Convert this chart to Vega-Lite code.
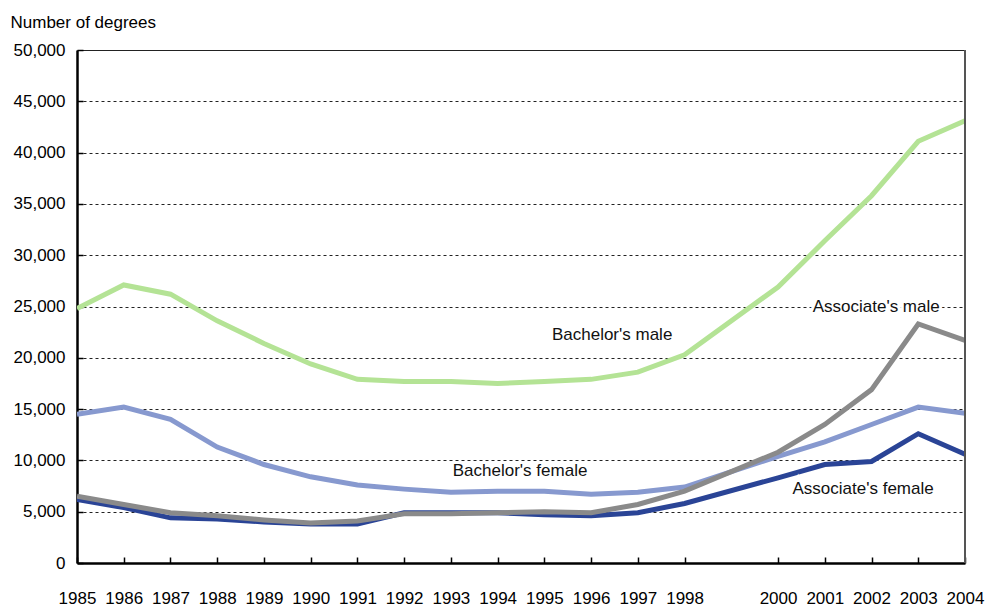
{
  "$schema": "https://vega.github.io/schema/vega-lite/v6.json",
  "autosize": "none",
  "width": 888,
  "height": 513,
  "padding": {"left": 77, "top": 50, "right": 22, "bottom": 44},
  "background": "white",
  "config": {
    "font": "Liberation Sans, Arial, sans-serif",
    "view": {"stroke": null}
  },
  "datasets": {
    "series": [
      {"year": 1985, "series": "Bachelor's male", "value": 24800},
      {"year": 1986, "series": "Bachelor's male", "value": 27100},
      {"year": 1987, "series": "Bachelor's male", "value": 26200},
      {"year": 1988, "series": "Bachelor's male", "value": 23600},
      {"year": 1989, "series": "Bachelor's male", "value": 21400},
      {"year": 1990, "series": "Bachelor's male", "value": 19400},
      {"year": 1991, "series": "Bachelor's male", "value": 17900},
      {"year": 1992, "series": "Bachelor's male", "value": 17700},
      {"year": 1993, "series": "Bachelor's male", "value": 17700},
      {"year": 1994, "series": "Bachelor's male", "value": 17500},
      {"year": 1995, "series": "Bachelor's male", "value": 17700},
      {"year": 1996, "series": "Bachelor's male", "value": 17900},
      {"year": 1997, "series": "Bachelor's male", "value": 18600},
      {"year": 1998, "series": "Bachelor's male", "value": 20300},
      {"year": 2000, "series": "Bachelor's male", "value": 26900},
      {"year": 2001, "series": "Bachelor's male", "value": 31400},
      {"year": 2002, "series": "Bachelor's male", "value": 35800},
      {"year": 2003, "series": "Bachelor's male", "value": 41100},
      {"year": 2004, "series": "Bachelor's male", "value": 43100},
      {"year": 1985, "series": "Bachelor's female", "value": 14500},
      {"year": 1986, "series": "Bachelor's female", "value": 15200},
      {"year": 1987, "series": "Bachelor's female", "value": 14000},
      {"year": 1988, "series": "Bachelor's female", "value": 11300},
      {"year": 1989, "series": "Bachelor's female", "value": 9600},
      {"year": 1990, "series": "Bachelor's female", "value": 8400},
      {"year": 1991, "series": "Bachelor's female", "value": 7600},
      {"year": 1992, "series": "Bachelor's female", "value": 7200},
      {"year": 1993, "series": "Bachelor's female", "value": 6900},
      {"year": 1994, "series": "Bachelor's female", "value": 7000},
      {"year": 1995, "series": "Bachelor's female", "value": 7000},
      {"year": 1996, "series": "Bachelor's female", "value": 6700},
      {"year": 1997, "series": "Bachelor's female", "value": 6900},
      {"year": 1998, "series": "Bachelor's female", "value": 7400},
      {"year": 2000, "series": "Bachelor's female", "value": 10400},
      {"year": 2001, "series": "Bachelor's female", "value": 11800},
      {"year": 2002, "series": "Bachelor's female", "value": 13500},
      {"year": 2003, "series": "Bachelor's female", "value": 15200},
      {"year": 2004, "series": "Bachelor's female", "value": 14600},
      {"year": 1985, "series": "Associate's female", "value": 6200},
      {"year": 1986, "series": "Associate's female", "value": 5400},
      {"year": 1987, "series": "Associate's female", "value": 4400},
      {"year": 1988, "series": "Associate's female", "value": 4300},
      {"year": 1989, "series": "Associate's female", "value": 4000},
      {"year": 1990, "series": "Associate's female", "value": 3800},
      {"year": 1991, "series": "Associate's female", "value": 3800},
      {"year": 1992, "series": "Associate's female", "value": 4900},
      {"year": 1993, "series": "Associate's female", "value": 4900},
      {"year": 1994, "series": "Associate's female", "value": 4900},
      {"year": 1995, "series": "Associate's female", "value": 4700},
      {"year": 1996, "series": "Associate's female", "value": 4600},
      {"year": 1997, "series": "Associate's female", "value": 4900},
      {"year": 1998, "series": "Associate's female", "value": 5800},
      {"year": 2000, "series": "Associate's female", "value": 8300},
      {"year": 2001, "series": "Associate's female", "value": 9600},
      {"year": 2002, "series": "Associate's female", "value": 9900},
      {"year": 2003, "series": "Associate's female", "value": 12600},
      {"year": 2004, "series": "Associate's female", "value": 10600},
      {"year": 1985, "series": "Associate's male", "value": 6500},
      {"year": 1986, "series": "Associate's male", "value": 5700},
      {"year": 1987, "series": "Associate's male", "value": 4900},
      {"year": 1988, "series": "Associate's male", "value": 4600},
      {"year": 1989, "series": "Associate's male", "value": 4200},
      {"year": 1990, "series": "Associate's male", "value": 3900},
      {"year": 1991, "series": "Associate's male", "value": 4100},
      {"year": 1992, "series": "Associate's male", "value": 4800},
      {"year": 1993, "series": "Associate's male", "value": 4800},
      {"year": 1994, "series": "Associate's male", "value": 4900},
      {"year": 1995, "series": "Associate's male", "value": 5000},
      {"year": 1996, "series": "Associate's male", "value": 4900},
      {"year": 1997, "series": "Associate's male", "value": 5700},
      {"year": 1998, "series": "Associate's male", "value": 7000},
      {"year": 2000, "series": "Associate's male", "value": 10800},
      {"year": 2001, "series": "Associate's male", "value": 13500},
      {"year": 2002, "series": "Associate's male", "value": 16900},
      {"year": 2003, "series": "Associate's male", "value": 23300},
      {"year": 2004, "series": "Associate's male", "value": 21700}
    ],
    "labels": [
      {"year": 1996.45, "value": 22200, "label": "Bachelor's male"},
      {"year": 1994.48, "value": 9000, "label": "Bachelor's female"},
      {"year": 2002.1, "value": 24950, "label": "Associate's male"},
      {"year": 2001.82, "value": 7250, "label": "Associate's female"}
    ]
  },
  "layer": [
    {
      "data": {"name": "series"},
      "mark": {"type": "line", "strokeWidth": 5, "clip": true, "strokeJoin": "miter"},
      "encoding": {
        "x": {
          "field": "year",
          "type": "quantitative",
          "scale": {"domain": [1985, 2004], "nice": false, "zero": false},
          "axis": {
            "title": null,
            "values": [1985, 1986, 1987, 1988, 1989, 1990, 1991, 1992, 1993, 1994, 1995, 1996, 1997, 1998, 2000, 2001, 2002, 2003, 2004],
            "labelExpr": "'' + datum.value",
            "labelFontSize": 17,
            "labelColor": "#000",
            "labelPadding": 33,
            "labelFlush": false,
            "labelOverlap": false,
            "tickSize": -6,
            "tickColor": "#000",
            "tickWidth": 1.5,
            "domainColor": "#000",
            "domainWidth": 2.5,
            "grid": false
          }
        },
        "y": {
          "field": "value",
          "type": "quantitative",
          "scale": {"domain": [0, 50000], "nice": false},
          "axis": {
            "title": "Number of degrees",
            "titleAngle": 0,
            "titleAlign": "left",
            "titleBaseline": "alphabetic",
            "titleX": -67,
            "titleY": -23,
            "titleFontSize": 17,
            "titleFontWeight": "normal",
            "titleColor": "#000",
            "values": [0, 2500, 5000, 7500, 10000, 12500, 15000, 17500, 20000, 22500, 25000, 27500, 30000, 32500, 35000, 37500, 40000, 42500, 45000, 47500, 50000],
            "labelExpr": "datum.value % 5000 === 0 ? format(datum.value, ',') : ''",
            "labelFontSize": 17,
            "labelColor": "#000",
            "labelPadding": 18,
            "tickSize": -6,
            "tickColor": "#000",
            "tickWidth": 1.5,
            "domainColor": "#000",
            "domainWidth": 2.5,
            "grid": true,
            "gridColor": "#222",
            "gridWidth": 1,
            "gridDash": {"condition": {"test": "datum.value === 50000", "value": []}, "value": [3, 3]},
            "gridOpacity": {"condition": {"test": "datum.value % 5000 === 0 && datum.value > 0", "value": 1}, "value": 0}
          }
        },
        "color": {
          "field": "series",
          "type": "nominal",
          "scale": {
            "domain": ["Bachelor's male", "Bachelor's female", "Associate's female", "Associate's male"],
            "range": ["#b4e395", "#8799cf", "#2a4496", "#8a8a8a"]
          },
          "legend": null
        },
        "order": {"value": 0}
      }
    },
    {
      "data": {"values": [{"x": 2004}]},
      "mark": {"type": "rule", "color": "#555", "strokeWidth": 2},
      "encoding": {"x": {"field": "x", "type": "quantitative"}}
    },
    {
      "data": {"name": "labels"},
      "mark": {"type": "text", "fontSize": 17, "stroke": "white", "strokeWidth": 6, "fill": "white", "align": "center", "baseline": "middle"},
      "encoding": {
        "x": {"field": "year", "type": "quantitative"},
        "y": {"field": "value", "type": "quantitative"},
        "text": {"field": "label"}
      }
    },
    {
      "data": {"name": "labels"},
      "mark": {"type": "text", "fontSize": 17, "color": "#111", "align": "center", "baseline": "middle"},
      "encoding": {
        "x": {"field": "year", "type": "quantitative"},
        "y": {"field": "value", "type": "quantitative"},
        "text": {"field": "label"}
      }
    }
  ]
}
